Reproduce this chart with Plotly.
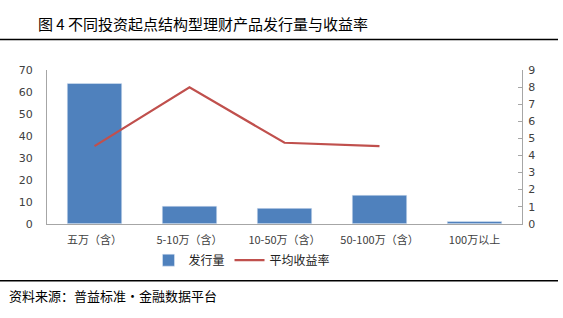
import plotly.graph_objects as go

categories = ["五万（含）", "5-10万（含）", "10-50万（含）", "50-100万（含）", "100万以上"]
issuance = [64, 8, 7, 13, 1]
avg_yield = [4.55, 8.0, 4.75, 4.55, None]
left_ticks = [0, 10, 20, 30, 40, 50, 60, 70]
right_ticks = [0, 1, 2, 3, 4, 5, 6, 7, 8, 9]

W, H = 563, 318
x0, x1 = 47, 522
y_top, y_bot = 67, 227

tick_font = dict(family="DejaVu Sans, Verdana", size=11, color="#404040")
cjk = "Noto Sans CJK SC"

fig = go.Figure()
fig.add_trace(go.Bar(x=categories, y=issuance, name="发行量", marker_color="#4F81BD",
                     yaxis="y"))
fig.add_trace(go.Scatter(x=categories, y=avg_yield, name="平均收益率", mode="lines",
                         line=dict(color="#C0504D", width=2.2), yaxis="y2"))

fig.update_layout(
    width=W, height=H,
    margin=dict(l=0, r=0, t=0, b=0),
    paper_bgcolor="white", plot_bgcolor="white",
    bargap=0.427,
    showlegend=True,
    legend=dict(orientation="h", x=242 / W, xanchor="center", y=(H - 265) / H, yanchor="middle",
                font=dict(family=cjk, size=12, color="#222"), traceorder="normal",
                itemwidth=30, tracegroupgap=0),
    xaxis=dict(domain=[x0 / W, x1 / W], type="category", showline=True, linecolor="#A6A6A6",
               linewidth=1, ticks="", showgrid=False, ticklabelstandoff=6,
               tickfont=dict(family=cjk, size=11, color="#404040")),
    yaxis=dict(domain=[(H - y_bot) / H, (H - y_top) / H], range=[0, 70], tickvals=left_ticks,
               showline=True, linecolor="#A6A6A6", linewidth=1, showgrid=False, ticks="",
               ticklabelstandoff=11,
               tickfont=tick_font, zeroline=False),
    yaxis2=dict(overlaying="y", side="right", range=[0, 9], tickvals=right_ticks,
                showline=True, linecolor="#A6A6A6", linewidth=1, showgrid=False,
                ticks="inside", ticklen=4, tickcolor="#A6A6A6", ticklabelstandoff=3,
                tickfont=tick_font, zeroline=False),
    shapes=[
        dict(type="line", xref="paper", yref="paper", x0=0, x1=558 / W,
             y0=(H - 35) / H, y1=(H - 35) / H, line=dict(color="black", width=1.5)),
        dict(type="line", xref="paper", yref="paper", x0=0, x1=558 / W,
             y0=(H - 286.5) / H, y1=(H - 286.5) / H, line=dict(color="black", width=1.5)),
    ],
    annotations=[
        dict(text="图 4 不同投资起点结构型理财产品发行量与收益率", xref="paper", yref="paper",
             x=36 / W, y=(H - 18) / H, xanchor="left", yanchor="middle", showarrow=False,
             font=dict(family=cjk, size=15, color="black")),
        dict(text="资料来源：普益标准•金融数据平台", xref="paper", yref="paper",
             x=7 / W, y=(H - 302) / H, xanchor="left", yanchor="middle", showarrow=False,
             font=dict(family=cjk, size=13, color="black")),
    ],
)

fig.write_html("out.html")
